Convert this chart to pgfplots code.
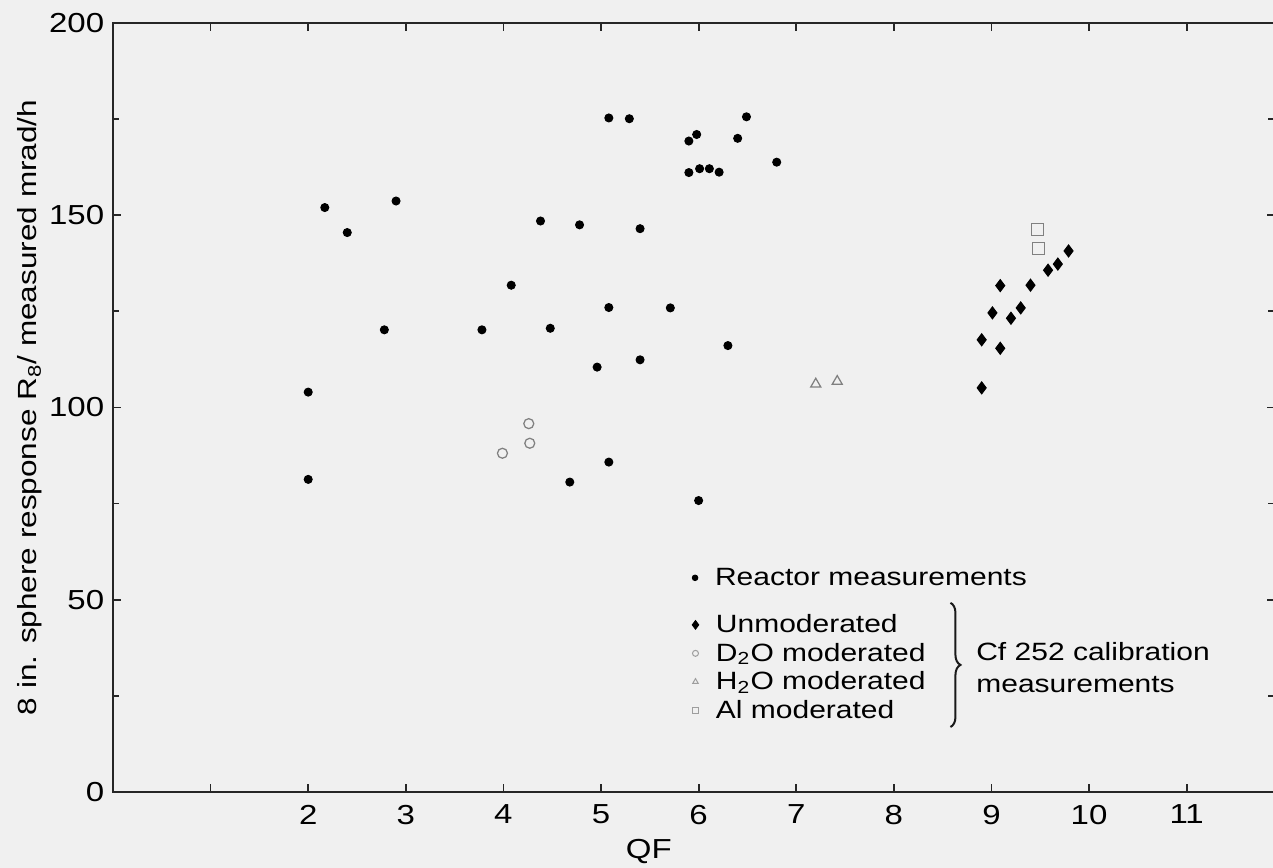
\documentclass[border=0pt]{standalone}
\usepackage{fontspec}
\setmainfont{Liberation Sans}[FakeStretch=1.2]
\usepackage{pgfplots}
\pgfplotsset{compat=1.18}
\usetikzlibrary{decorations.pathreplacing,backgrounds}

\pgfplotstableread{
x y
2.00 104.0
2.00 81.3
2.17 152.0
2.40 145.5
2.78 120.2
2.90 153.7
3.78 120.2
4.08 131.8
4.38 148.5
4.48 120.6
4.68 80.6
4.78 147.5
4.96 110.5
5.08 126.0
5.08 175.3
5.08 85.8
5.29 175.1
5.40 146.5
5.40 112.4
5.71 125.9
5.90 169.3
5.98 171.0
5.90 161.1
6.01 162.1
6.11 162.1
6.21 161.2
6.00 75.8
6.30 116.1
6.40 170.0
6.49 175.6
6.80 163.8
}\reactor

\pgfplotstableread{
x y
8.90 105.1
8.90 117.6
9.01 124.6
9.09 115.4
9.09 131.7
9.20 123.2
9.30 125.9
9.40 131.8
9.58 135.7
9.68 137.3
9.79 140.7
}\unmod

\pgfplotstableread{
x y
3.99 88.1
4.27 90.7
4.26 95.8
}\dtwoo

\pgfplotstableread{
x y
7.20 106.1
7.42 106.8
}\htwoo

\pgfplotstableread{
x y
9.47 146.2
9.48 141.4
}\alum

\newcommand\ls{\rule[-2.8pt]{0pt}{10.6pt}}
\definecolor{markgray}{gray}{0.5}
\definecolor{leggray}{gray}{0.62}

\pgfplotsset{
  commonax/.style={
    scale only axis,
    width=464.6pt, height=307.6pt,
    xmin=0, xmax=11.9, ymin=0, ymax=200,
  },
  mylegend/.style={
    legend style={draw=none, fill=none, inner sep=0pt, column sep=6.4pt,
      row sep=1.1pt, nodes={inner sep=0.5pt}, font=\fontsize{10}{12}\selectfont},
    legend cell align=left,
  },
}

\begin{document}
\begin{tikzpicture}[show background rectangle,
  background rectangle/.style={fill=black!6, draw=none}, inner frame sep=0pt]
\begin{axis}[commonax, mylegend,
  axis line style={line width=0.8pt, black!85},
  every tick/.style={black!85, line width=0.7pt},
  tick align=inside,
  xtick pos=both, ytick pos=both,
  xtick={1,2,...,11},
  xticklabels={,2,3,4,5,6,7,8,9,10,11},
  ytick={0,50,...,200},
  minor ytick={25,75,125,175},
  major tick length=3.2pt, minor tick length=2.6pt,
  /pgf/number format/assume math mode=true,
  tick label style={font=\fontsize{11}{13}\selectfont},
  xticklabel style={yshift=-1.6pt},
  xlabel={QF},
  xlabel style={at={(axis cs:5.49,0)}, anchor=center, yshift=-24pt, font=\fontsize{11}{13}\selectfont},
  ylabel={8 in. sphere response R\textsubscript{8}/ measured mrad/h},
  ylabel style={at={(axis description cs:-0.0715,0.5)}, anchor=center, font=\fontsize{10.5}{12.5}\selectfont},
  legend style={at={(axis cs:5.93,32.35)}, anchor=west},
]
\addplot[forget plot, only marks, mark=*, mark size=1.6pt, black] table {\reactor};

\addplot[only marks, mark=diamond*, mark size=2.4pt, black,
  legend image code/.code={\draw[only marks, mark=diamond*, mark size=1.7pt, black] plot coordinates {(0pt,0pt)};}]
  table {\unmod};
\addlegendentry{\ls Unmoderated}

\addplot[only marks, mark=o, mark size=2pt, markgray, line width=0.5pt,
  legend image code/.code={\draw[only marks, mark=o, mark size=1.2pt, leggray, line width=0.4pt] plot coordinates {(0pt,0pt)};}]
  table {\dtwoo};
\addlegendentry{\ls D\textsubscript{2}O moderated}

\addplot[only marks, mark=triangle, mark size=2.3pt, markgray, line width=0.5pt,
  legend image code/.code={\draw[only marks, mark=triangle, mark size=1.3pt, leggray, line width=0.4pt] plot coordinates {(0pt,0pt)};}]
  table {\htwoo};
\addlegendentry{\ls H\textsubscript{2}O moderated}

\addplot[only marks, mark=square, mark size=2.4pt, markgray, line width=0.5pt,
  legend image code/.code={\draw[only marks, mark=square, mark size=1.1pt, leggray, line width=0.4pt] plot coordinates {(0pt,0pt)};}]
  table {\alum};
\addlegendentry{\ls Al moderated}

\draw[decorate, decoration={brace, amplitude=4pt}, line width=0.8pt, black!90]
  (axis cs:8.58,49.2) -- (axis cs:8.58,16.9);
\node[anchor=base west, inner sep=0pt, font=\fontsize{10}{12}\selectfont] at (axis cs:8.84,34.2) {Cf 252 calibration};
\node[anchor=base west, inner sep=0pt, font=\fontsize{10}{12}\selectfont] at (axis cs:8.84,26.0) {measurements};
\end{axis}

\begin{axis}[commonax, mylegend, hide axis,
  legend style={at={(axis cs:5.93,55.7)}, anchor=west}]
\addlegendimage{only marks, mark=*, mark size=1.1pt, black,
  legend image code/.code={\draw[only marks, mark=*, mark size=1.1pt, black] plot coordinates {(0pt,0pt)};}}
\addlegendentry{\ls Reactor measurements}
\end{axis}

\pgfresetboundingbox
\path[use as bounding box] ([shift={(-45.2pt,-30.4pt)}]current axis.south west)
  rectangle ([shift={(-0.6pt,9.2pt)}]current axis.north east);
\end{tikzpicture}
\end{document}
